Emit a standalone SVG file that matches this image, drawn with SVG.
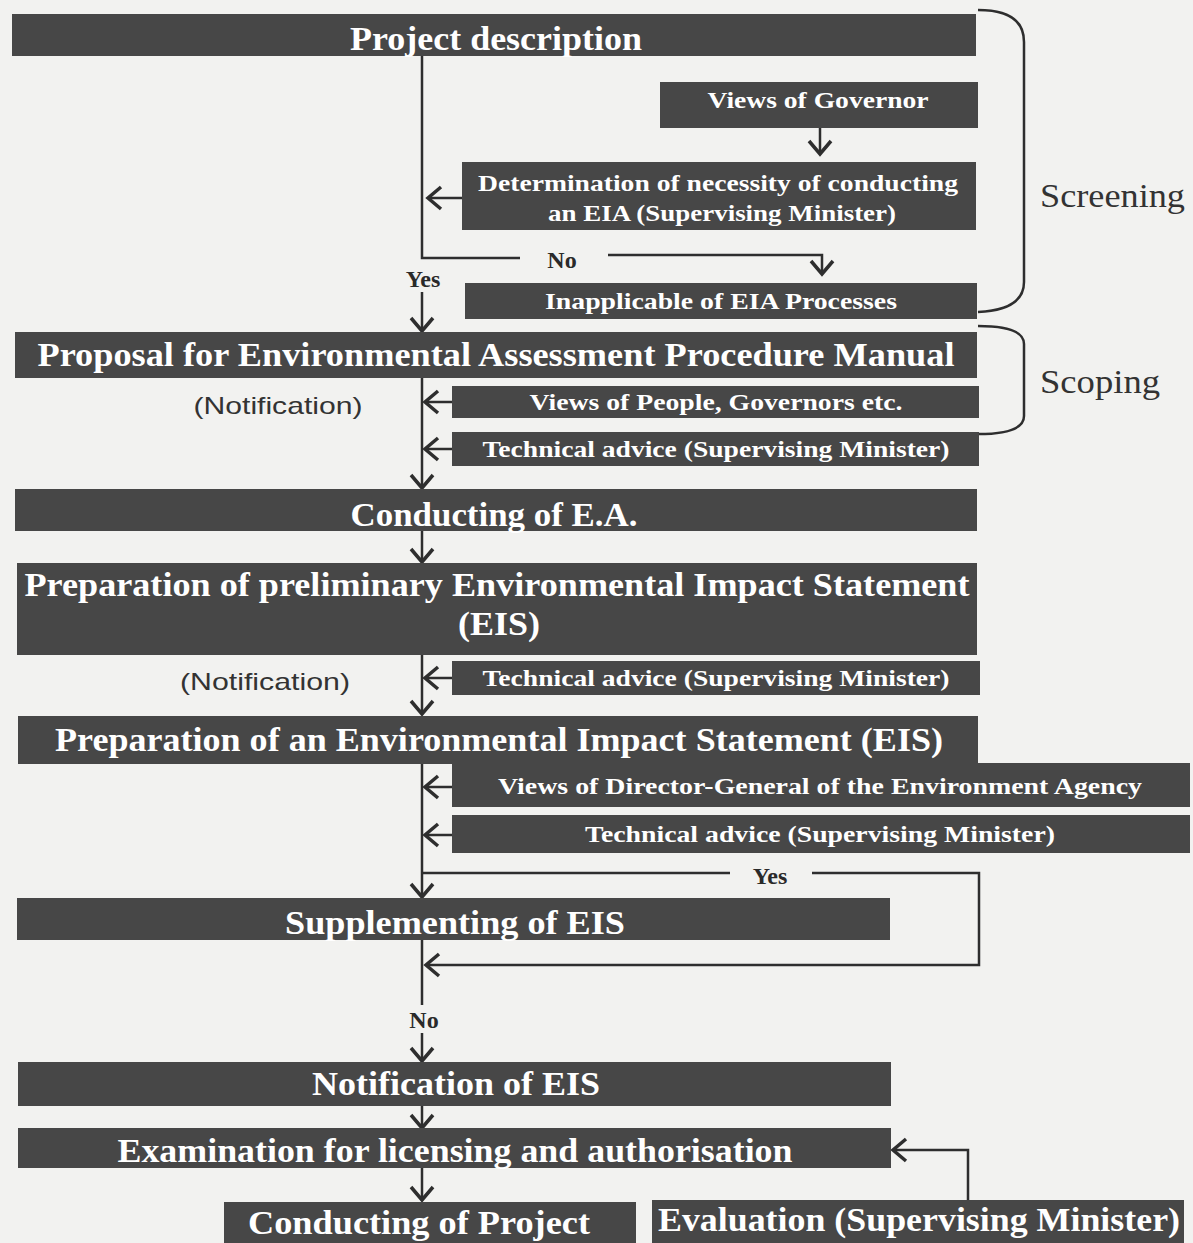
<svg xmlns="http://www.w3.org/2000/svg" width="1193" height="1243" viewBox="0 0 1193 1243">
<style>
.bg{fill:#f2f2f0}
.box{fill:#474747}
.t{fill:#ffffff;font-family:"Liberation Serif","Times New Roman",serif;font-weight:bold;text-anchor:middle}
.big{font-size:34px}
.mid{font-size:24px}
.lbl{fill:#2a2a2a;font-family:"Liberation Serif","Times New Roman",serif;font-weight:bold;font-size:24px;text-anchor:middle}
.side{fill:#333;font-family:"Liberation Serif","Times New Roman",serif;font-size:34px;text-anchor:start}
.note{fill:#333;font-family:"Liberation Sans",Arial,sans-serif;font-size:24px;text-anchor:middle}
.ln{fill:none;stroke:#2e2e2e;stroke-width:2.5}
.br{fill:none;stroke:#2e2e2e;stroke-width:2.5}
</style>
<defs>
<marker id="arr" viewBox="0 0 26 26" markerWidth="26" markerHeight="26" refX="23" refY="13" orient="auto" markerUnits="userSpaceOnUse">
<path d="M10,2 L23,13 L10,24" fill="none" stroke="#2e2e2e" stroke-width="3.5" stroke-linejoin="miter"/>
</marker>
</defs>
<rect class="bg" x="0" y="0" width="1193" height="1243"/>

<g id="connectors">
<path class="ln" d="M422,56 V258 H520"/>
<path class="ln" d="M608,255 H822 V274" marker-end="url(#arr)"/>
<path class="ln" d="M820,128 V154" marker-end="url(#arr)"/>
<path class="ln" d="M462,198 H428" marker-end="url(#arr)"/>
<path class="ln" d="M422,292 V331" marker-end="url(#arr)"/>
<path class="ln" d="M422,378 V488" marker-end="url(#arr)"/>
<path class="ln" d="M452,402 H425" marker-end="url(#arr)"/>
<path class="ln" d="M452,449 H425" marker-end="url(#arr)"/>
<path class="ln" d="M422,531 V562" marker-end="url(#arr)"/>
<path class="ln" d="M422,655 V714" marker-end="url(#arr)"/>
<path class="ln" d="M452,678 H425" marker-end="url(#arr)"/>
<path class="ln" d="M422,764 V897" marker-end="url(#arr)"/>
<path class="ln" d="M452,787 H425" marker-end="url(#arr)"/>
<path class="ln" d="M452,835 H425" marker-end="url(#arr)"/>
<path class="ln" d="M422,873 H730"/>
<path class="ln" d="M812,873 H979 V965 H426" marker-end="url(#arr)"/>
<path class="ln" d="M422,940 V1005"/>
<path class="ln" d="M422,1033 V1061" marker-end="url(#arr)"/>
<path class="ln" d="M422,1106 V1128" marker-end="url(#arr)"/>
<path class="ln" d="M422,1168 V1200" marker-end="url(#arr)"/>
<path class="ln" d="M968,1200 V1150 H893" marker-end="url(#arr)"/>
<text class="lbl" x="562" y="268">No</text>
<text class="lbl" x="423" y="287">Yes</text>
<text class="lbl" x="770" y="884">Yes</text>
<text class="lbl" x="424" y="1028">No</text>
</g>

<g id="screening">
<path class="br" d="M978,10 Q1024,10 1024,42 V282 Q1024,310 978,312"/>
<text class="side" x="1040" y="207" textLength="145" lengthAdjust="spacingAndGlyphs">Screening</text>
</g>
<g id="scoping">
<path class="br" d="M978,326 Q1024,326 1024,344 V416 Q1024,434 978,434"/>
<text class="side" x="1040" y="393" textLength="120" lengthAdjust="spacingAndGlyphs">Scoping</text>
</g>

<g id="project-description">
<rect class="box" x="12" y="14" width="964" height="42"/>
<text class="t big" x="496" y="50" textLength="292" lengthAdjust="spacingAndGlyphs">Project description</text>
</g>
<g id="views-governor">
<rect class="box" x="660" y="82" width="318" height="46"/>
<text class="t mid" x="818" y="108" textLength="221" lengthAdjust="spacingAndGlyphs">Views of Governor</text>
</g>
<g id="determination">
<rect class="box" x="462" y="162" width="514" height="68"/>
<text class="t mid" x="718" y="191" textLength="480" lengthAdjust="spacingAndGlyphs">Determination of necessity of conducting</text>
<text class="t mid" x="722" y="221" textLength="348" lengthAdjust="spacingAndGlyphs">an EIA (Supervising Minister)</text>
</g>
<g id="inapplicable">
<rect class="box" x="465" y="283" width="512" height="36"/>
<text class="t mid" x="721" y="309" textLength="352" lengthAdjust="spacingAndGlyphs">Inapplicable of EIA Processes</text>
</g>
<g id="proposal">
<rect class="box" x="15" y="332" width="962" height="46"/>
<text class="t big" x="496" y="366" textLength="917" lengthAdjust="spacingAndGlyphs">Proposal for Environmental Assessment Procedure Manual</text>
</g>
<text class="note" x="278" y="414" textLength="169" lengthAdjust="spacingAndGlyphs">(Notification)</text>
<g id="views-people">
<rect class="box" x="452" y="386" width="527" height="32"/>
<text class="t mid" x="716" y="410" textLength="373" lengthAdjust="spacingAndGlyphs">Views of People, Governors etc.</text>
</g>
<g id="tech-advice-1">
<rect class="box" x="452" y="432" width="527" height="34"/>
<text class="t mid" x="716" y="457" textLength="467" lengthAdjust="spacingAndGlyphs">Technical advice (Supervising Minister)</text>
</g>
<g id="conducting-ea">
<rect class="box" x="15" y="489" width="962" height="42"/>
<text class="t big" x="494" y="526" textLength="287" lengthAdjust="spacingAndGlyphs">Conducting of E.A.</text>
</g>
<g id="preliminary-eis">
<rect class="box" x="17" y="563" width="960" height="92"/>
<text class="t big" x="497" y="596" textLength="945" lengthAdjust="spacingAndGlyphs">Preparation of preliminary Environmental Impact Statement</text>
<text class="t big" x="499" y="635" textLength="82" lengthAdjust="spacingAndGlyphs">(EIS)</text>
</g>
<text class="note" x="265" y="690" textLength="170" lengthAdjust="spacingAndGlyphs">(Notification)</text>
<g id="tech-advice-2">
<rect class="box" x="452" y="661" width="528" height="34"/>
<text class="t mid" x="716" y="686" textLength="467" lengthAdjust="spacingAndGlyphs">Technical advice (Supervising Minister)</text>
</g>
<g id="eis">
<rect class="box" x="18" y="716" width="960" height="48"/>
<text class="t big" x="499" y="751" textLength="888" lengthAdjust="spacingAndGlyphs">Preparation of an Environmental Impact Statement (EIS)</text>
</g>
<g id="views-director">
<rect class="box" x="452" y="763" width="738" height="44"/>
<text class="t mid" x="820" y="794" textLength="644" lengthAdjust="spacingAndGlyphs">Views of Director-General of the Environment Agency</text>
</g>
<g id="tech-advice-3">
<rect class="box" x="452" y="815" width="738" height="38"/>
<text class="t mid" x="820" y="842" textLength="470" lengthAdjust="spacingAndGlyphs">Technical advice (Supervising Minister)</text>
</g>
<g id="supplementing">
<rect class="box" x="17" y="898" width="873" height="42"/>
<text class="t big" x="455" y="934" textLength="340" lengthAdjust="spacingAndGlyphs">Supplementing of EIS</text>
</g>
<g id="notification-eis">
<rect class="box" x="18" y="1062" width="873" height="44"/>
<text class="t big" x="456" y="1095" textLength="288" lengthAdjust="spacingAndGlyphs">Notification of EIS</text>
</g>
<g id="examination">
<rect class="box" x="18" y="1128" width="873" height="40"/>
<text class="t big" x="455" y="1162" textLength="675" lengthAdjust="spacingAndGlyphs">Examination for licensing and authorisation</text>
</g>
<g id="conducting-project">
<rect class="box" x="224" y="1202" width="412" height="41"/>
<text class="t big" x="419" y="1234" textLength="342" lengthAdjust="spacingAndGlyphs">Conducting of Project</text>
</g>
<g id="evaluation">
<rect class="box" x="652" y="1200" width="532" height="43"/>
<text class="t big" x="919" y="1231" textLength="522" lengthAdjust="spacingAndGlyphs">Evaluation (Supervising Minister)</text>
</g>
</svg>
